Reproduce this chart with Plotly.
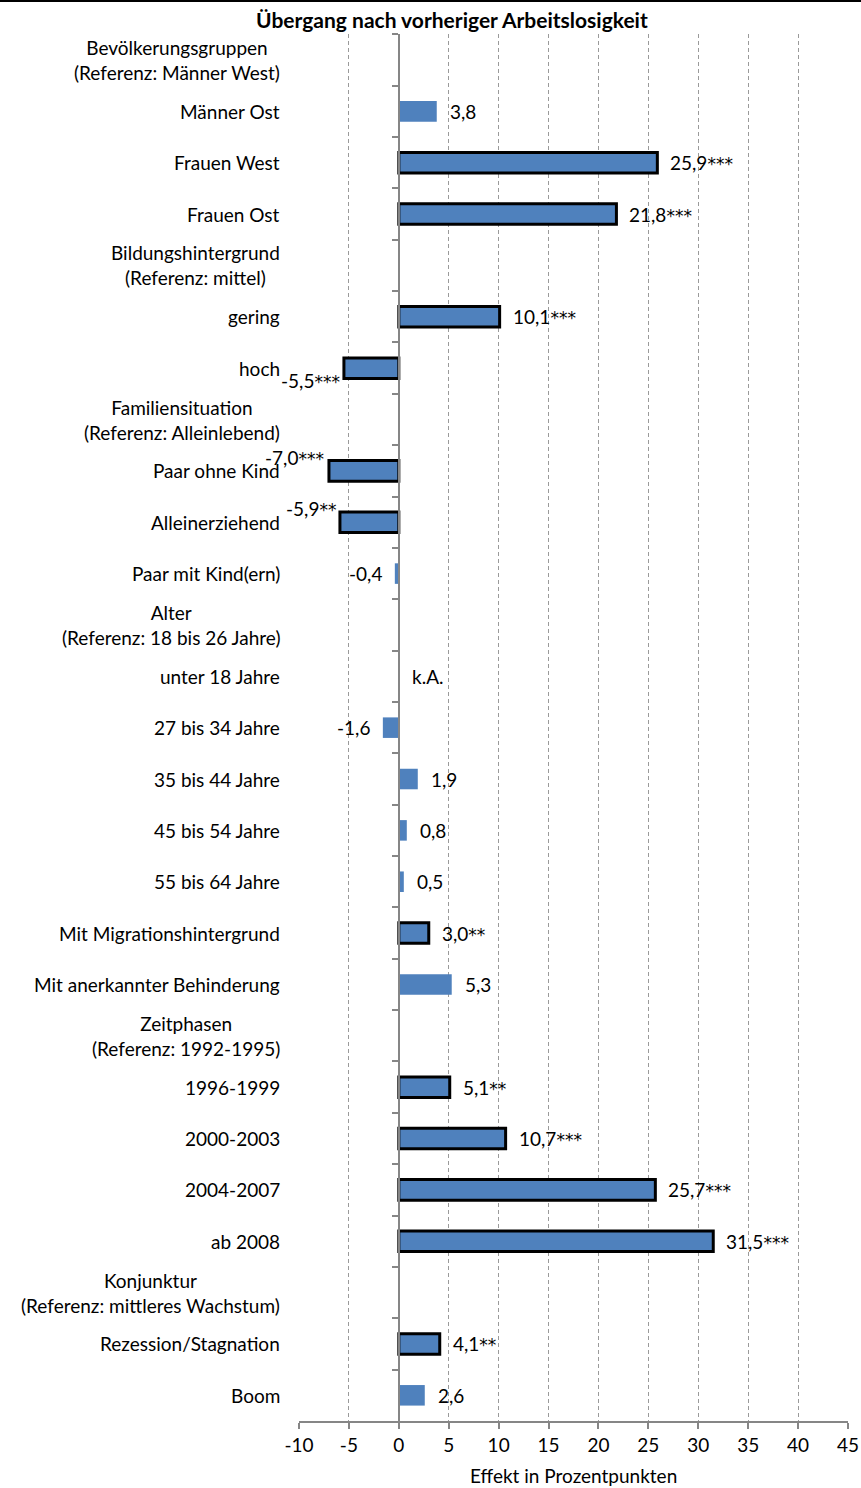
import plotly.graph_objects as go

categories = [
    "Bevölkerungsgruppen<br>(Referenz: Männer West)",
    "Männer Ost", "Frauen West", "Frauen Ost",
    "Bildungshintergrund<br>(Referenz: mittel)",
    "gering", "hoch",
    "Familiensituation<br>(Referenz: Alleinlebend)",
    "Paar ohne Kind", "Alleinerziehend", "Paar mit Kind(ern)",
    "Alter<br>(Referenz: 18 bis 26 Jahre)",
    "unter 18 Jahre", "27 bis 34 Jahre", "35 bis 44 Jahre", "45 bis 54 Jahre", "55 bis 64 Jahre",
    "Mit Migrationshintergrund", "Mit anerkannter Behinderung",
    "Zeitphasen<br>(Referenz: 1992-1995)",
    "1996-1999", "2000-2003", "2004-2007", "ab 2008",
    "Konjunktur<br>(Referenz: mittleres Wachstum)",
    "Rezession/Stagnation", "Boom",
]
values = [None, 3.8, 25.9, 21.8, None, 10.1, -5.5, None, -7.0, -5.9, -0.4, None,
          None, -1.6, 1.9, 0.8, 0.5, 3.0, 5.3, None, 5.1, 10.7, 25.7, 31.5, None, 4.1, 2.6]
stars = ["", "", "***", "***", "", "***", "***", "", "***", "**", "", "",
         "", "", "", "", "", "**", "", "", "**", "***", "***", "***", "", "**", ""]
no_data = {"unter 18 Jahre": "k.A."}
# label nudges (pixels) for crowded negative labels: (xshift, yshift)
nudges = {"hoch": (-2, -12), "Paar ohne Kind": (-3, 13), "Alleinerziehend": (-2, 14)}

x_ticks = list(range(-10, 50, 5))
title = "Übergang nach vorheriger Arbeitslosigkeit"
x_title = "Effekt in Prozentpunkten"

FONT = "Lato, sans-serif"
FS = 19
BLUE = "#4F81BD"
GRAY = "#868686"

W, H = 861, 1488
L, R, T, B = 299, 13, 34, 67
PW, PH = W - L - R, H - T - B

fig = go.Figure()
fig.add_trace(go.Bar(
    x=values, y=categories, orientation="h", width=0.4,
    marker=dict(color=BLUE,
                line=dict(color="black", width=[3 if s else 0 for s in stars])),
    hoverinfo="skip", showlegend=False,
))

lbl_font = dict(family=FONT, size=FS, color="black")


def star_html(s):
    if not s:
        return ""
    return "<span style='font-family:DejaVu Sans;font-size:17px'>" + s + "</span>"


annotations = []
# category labels
for c in categories:
    annotations.append(dict(
        x=-17 / PW, xref="paper", y=c, yref="y", text=c, showarrow=False,
        xanchor="right", yanchor="middle", align="center", font=lbl_font,
    ))
# value labels
for c, v, s in zip(categories, values, stars):
    if v is None:
        if c in no_data:
            annotations.append(dict(x=0, y=c, xref="x", yref="y", text=no_data[c],
                                    showarrow=False, xanchor="left", xshift=11,
                                    font=lbl_font))
        continue
    txt = f"{v:.1f}".replace(".", ",") + star_html(s)
    dx, dy = nudges.get(c, (0, 0))
    if v >= 0:
        annotations.append(dict(x=v, y=c, xref="x", yref="y", text=txt, showarrow=False,
                                xanchor="left", xshift=11 + dx, yshift=dy, font=lbl_font))
    else:
        xs = dx if c in nudges else -11
        annotations.append(dict(x=v, y=c, xref="x", yref="y", text=txt, showarrow=False,
                                xanchor="right", xshift=xs, yshift=dy, font=lbl_font))

# title
annotations.append(dict(
    x=(452 - L) / PW, xref="paper", y=1 + (T - 20) / PH, yref="paper",
    text=f"<b>{title}</b>", showarrow=False, xanchor="center", yanchor="middle",
    font=dict(family=FONT, size=21, color="black"),
))
# x-axis title
annotations.append(dict(
    x=0.5, xref="paper", y=-(1475 - (H - B)) / PH, yref="paper",
    text=x_title, showarrow=False, xanchor="center", yanchor="middle", font=lbl_font,
))

fig.update_layout(
    width=W, height=H,
    margin=dict(l=L, r=R, t=T, b=B, pad=0),
    paper_bgcolor="white", plot_bgcolor="white",
    font=dict(family=FONT, size=FS, color="black"),
    annotations=annotations,
    shapes=[dict(type="line", xref="paper", yref="paper",
                 x0=-L / PW, x1=1 + R / PW,
                 y0=1 + (T - 1) / PH, y1=1 + (T - 1) / PH,
                 line=dict(color="black", width=2))],
)
fig.update_xaxes(
    range=[-10, 45], tickvals=x_ticks, ticktext=[str(t) for t in x_ticks],
    showgrid=True, gridcolor="#9a9a9a", griddash="4px,3px", gridwidth=1,
    zeroline=False, automargin=False,
    showline=True, linecolor=GRAY, linewidth=1.5,
    ticks="outside", ticklen=6, tickcolor=GRAY, tickwidth=1.5,
    tickfont=lbl_font,
)
fig.update_yaxes(
    categoryorder="array", categoryarray=categories, autorange="reversed",
    anchor="free", position=10 / 55, automargin=False,
    showline=True, linecolor=GRAY, linewidth=1.5,
    ticks="outside", ticklen=6, tickcolor=GRAY, tickwidth=1.5,
    tickson="boundaries", showticklabels=False, showgrid=False, zeroline=False,
)

fig.write_html("out.html", config={"displayModeBar": False},
               post_script="document.body.style.margin='0';")
